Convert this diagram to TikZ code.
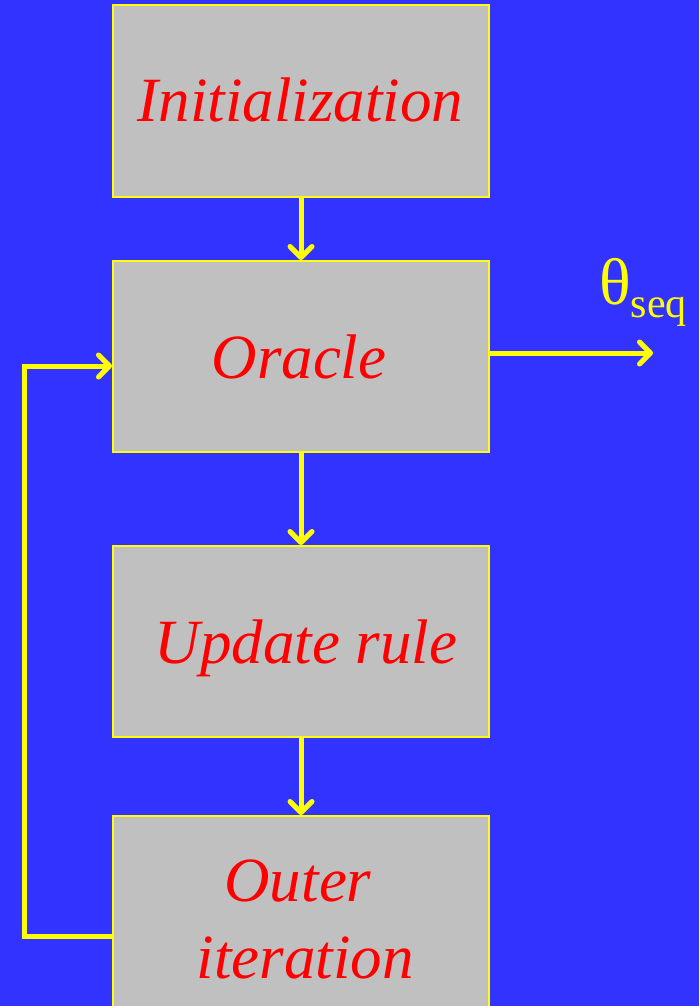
\documentclass[tikz,border=0pt]{standalone}
\usepackage{fontspec}
\setmainfont{Liberation Serif}
\usetikzlibrary{arrows.meta}
\definecolor{bgblue}{HTML}{3333FF}
\definecolor{boxgray}{HTML}{C0C0C0}
\definecolor{lineyellow}{HTML}{FFFF00}
\definecolor{textred}{HTML}{FF0000}
\tikzset{
  stagebox/.style={rectangle, draw=lineyellow, line width=2pt, fill=boxgray,
    minimum width=376pt, minimum height=192pt, inner sep=0pt},
  stagetext/.style={anchor=base, inner sep=0pt, text=textred,
    font=\fontsize{63}{77}\selectfont\itshape},
  flow/.style={draw=lineyellow, line width=5pt,
    -{Straight Barb[length=11pt,width=22pt,line cap=round,line join=round]}}
}
\begin{document}
\begin{tikzpicture}[x=1pt, y=-1pt]
  \fill[bgblue] (0,0) rectangle (699,1006);
  \useasboundingbox (0,0) rectangle (699,1006);
  \begin{scope}
    \clip (0,0) rectangle (699,1006);
    % the four stages
    \node[stagebox] (init) at (301,101) {};
    \node[stagebox, minimum height=191pt] (oracle) at (301,356.5) {};
    \node[stagebox, minimum height=191pt] (update) at (301,641.5) {};
    \node[stagebox, minimum height=206pt, anchor=north] (outer) at (301,815) {};
    % stage labels
    \node[stagetext] (initlbl) at (300.5,122) {Initialization};
    \node[stagetext] (oraclelbl) at (299,378) {Oracle};
    \node[stagetext] (updatelbl) at (306,663) {Update rule};
    \node[stagetext] (outerlbl) at (298,901) {Outer};
    \node[stagetext] (iterlbl) at (305,978) {iteration};
    % output label
    \node[anchor=base west, inner sep=0pt, text=lineyellow] (theta) at (599,304)
      {\fontsize{66}{66}\selectfont θ\raisebox{-13pt}{\fontsize{42}{42}\selectfont seq}};
    % flow between stages
    \draw[flow] (init.south) -- (oracle.north);
    \draw[flow] (oracle.south) -- (update.north);
    \draw[flow] (update.south) -- (outer.north);
    % output of the oracle
    \coordinate (outend) at (653,353);
    \draw[flow] ([yshift=3.5pt]oracle.east) -- (outend);
    % feedback from the outer iteration (yshift is in page direction: negative is down)
    \coordinate (fbout) at ([yshift=-121pt]outer.north west);
    \coordinate (fbin) at ([yshift=-9.5pt]oracle.west);
    \coordinate (fbcornerlow) at (24,936);
    \coordinate (fbcornerhigh) at (24,366);
    \draw[flow, line join=miter] (fbout) -- (fbcornerlow) -- (fbcornerhigh) -- (fbin);
  \end{scope}
\end{tikzpicture}
\end{document}
